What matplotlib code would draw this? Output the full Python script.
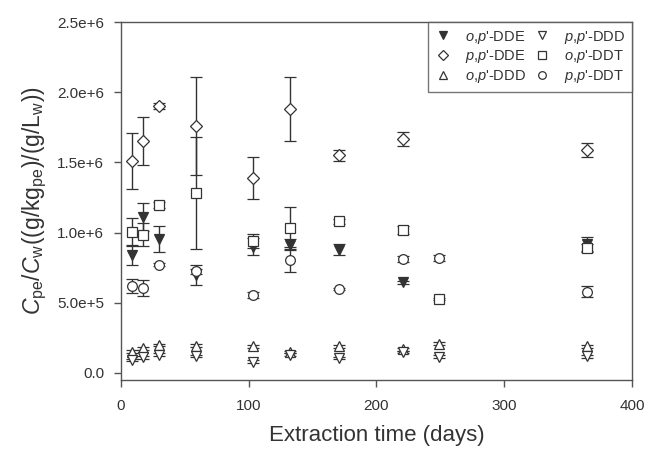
import numpy as np
import matplotlib
matplotlib.use("Agg")
import matplotlib.pyplot as plt
from matplotlib.lines import Line2D
from matplotlib.ticker import FuncFormatter

plt.rcParams['font.family'] = ['Liberation Sans', 'DejaVu Sans']
plt.rcParams['mathtext.fontset'] = 'custom'
plt.rcParams['mathtext.rm'] = 'Liberation Sans'
plt.rcParams['mathtext.it'] = 'Liberation Sans:italic'

nan = np.nan

# sampling days
days = [9, 17, 30, 59, 103, 132, 171, 221, 249, 365]

# partition coefficients (x 1e6) and error (x 1e6)
op_dde = [0.84, 1.11, 0.955, 0.70, 0.90, 0.914, 0.879, 0.645, nan, 0.92]
op_dde_err = [0.07, 0.10, 0.09, 0.07, 0.06, 0.04, 0.04, 0.01, nan, 0.05]
pp_dde = [1.51, 1.655, 1.90, 1.76, 1.39, 1.88, 1.55, 1.67, nan, 1.59]
pp_dde_err = [0.20, 0.17, 0.02, 0.35, 0.15, 0.23, 0.04, 0.05, nan, 0.05]
op_ddd = [0.152, 0.176, 0.20, 0.193, 0.19, 0.15, 0.19, 0.17, 0.21, 0.19]
op_ddd_err = [0.01, 0.01, 0.01, 0.01, 0.01, 0.01, 0.01, 0.01, 0.01, 0.01]
pp_ddd = [0.093, 0.112, 0.129, 0.121, 0.08, 0.13, 0.107, 0.15, 0.116, 0.12]
pp_ddd_err = [0.01, 0.01, 0.01, 0.01, 0.01, 0.01, 0.01, 0.01, 0.01, 0.01]
op_ddt = [1.005, 0.986, 1.195, 1.28, 0.938, 1.03, 1.08, 1.02, 0.527, 0.89]
op_ddt_err = [0.10, 0.08, 0.02, 0.40, 0.05, 0.15, 0.02, 0.03, 0.01, 0.03]
pp_ddt = [0.617, 0.605, 0.771, 0.724, 0.557, 0.807, 0.598, 0.81, 0.82, 0.58]
pp_ddt_err = [0.05, 0.06, 0.01, 0.02, 0.02, 0.09, 0.01, 0.02, 0.02, 0.04]

labels = ["$o$,$p$'-DDE", "$p$,$p$'-DDE", "$o$,$p$'-DDD",
          "$p$,$p$'-DDD", "$o$,$p$'-DDT", "$p$,$p$'-DDT"]
markers = ['v', 'D', '^', 'v', 's', 'o']
values = [op_dde, pp_dde, op_ddd, pp_ddd, op_ddt, pp_ddt]
errors = [op_dde_err, pp_dde_err, op_ddd_err, pp_ddd_err, op_ddt_err, pp_ddt_err]

ink = '#333333'

fig = plt.figure(figsize=(6.49, 4.51), dpi=100)
ax = fig.add_axes([0.1864, 0.1574, 0.7874, 0.7938])

handles = []
for lab, m, v, e in zip(labels, markers, values, errors):
    face = ink if lab == labels[0] else 'white'
    ms = 6.5 if m == 'D' else 7
    ax.errorbar(days, np.array(v) * 1e6, yerr=np.array(e) * 1e6, fmt=m,
                ms=ms, mfc=face, mec=ink, mew=0.9, ecolor=ink,
                elinewidth=1, capsize=4, capthick=1, zorder=3)
    handles.append(Line2D([], [], ls='none', marker=m, ms=ms - 1.5,
                          mfc=face, mec=ink, mew=0.9, label=lab))

ax.set_xlim(0, 400)
ax.set_ylim(-5e4, 2.5e6)
ax.set_xticks([0, 100, 200, 300, 400])
ax.set_yticks([0, 5e5, 1e6, 1.5e6, 2e6, 2.5e6])


def sci(v, pos):
    if v == 0:
        return "0.0"
    exp = int(np.floor(np.log10(v)))
    return f"{v / 10 ** exp:.1f}e+{exp}"


ax.yaxis.set_major_formatter(FuncFormatter(sci))
ax.tick_params(direction='out', length=5, width=1, color='#555555',
               labelsize=11, labelcolor=ink)
ax.tick_params(axis='x', pad=9)
ax.tick_params(axis='y', pad=7)
for s in ax.spines.values():
    s.set_color('#555555')
    s.set_linewidth(1)

ax.set_xlabel("Extraction time (days)", fontsize=16, color=ink, labelpad=8)
ax.set_ylabel(r"$C_{\mathrm{pe}}$/$C_{\mathrm{w}}$((g/kg$_{\mathrm{pe}}$)/(g/L$_{\mathrm{w}}$))",
              fontsize=16.5, color=ink, labelpad=6)

leg = ax.legend(handles=handles, loc='upper right', ncol=2, fontsize=10.5,
                frameon=True, fancybox=False, borderaxespad=0,
                handletextpad=0.9, columnspacing=0.5, labelspacing=0.2,
                borderpad=0.45, handlelength=1.2)
leg.get_frame().set_edgecolor('#555555')
leg.get_frame().set_linewidth(1)
for t in leg.get_texts():
    t.set_color(ink)

fig.savefig("out.png", dpi=100)
